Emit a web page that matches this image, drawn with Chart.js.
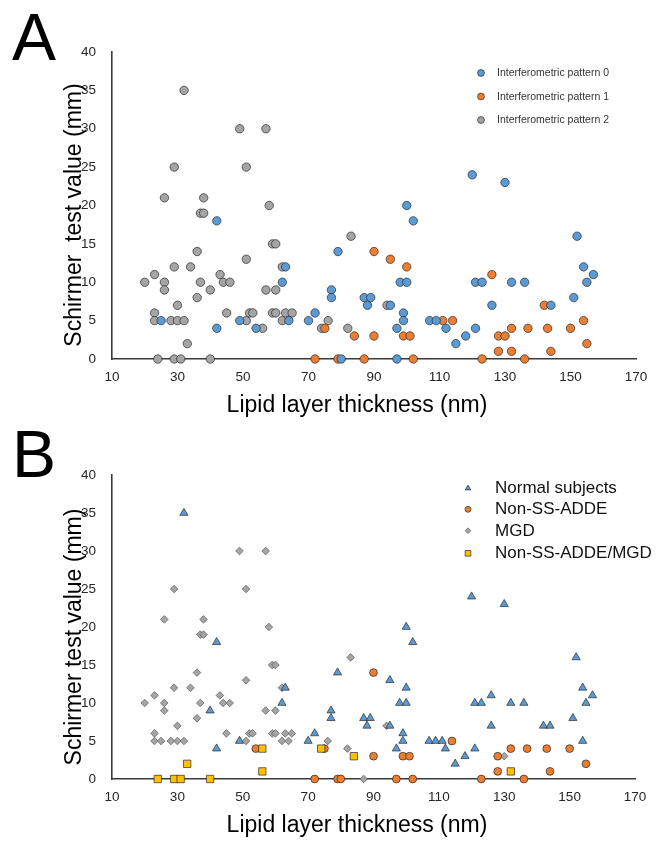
<!DOCTYPE html>
<html>
<head>
<meta charset="utf-8">
<script src="https://cdn.jsdelivr.net/npm/chart.js@4.4.1/dist/chart.umd.min.js"></script>
<style>
html,body{margin:0;padding:0;background:#fff;width:663px;height:842px;overflow:hidden;}
.wrap{position:absolute;left:0;width:663px;}
#wa{top:0;height:420px;}
#wb{top:420px;height:422px;}
.panel{position:absolute;left:12px;font-family:"Liberation Sans",Arial,Helvetica,sans-serif;font-size:66px;line-height:66px;color:#000;}
</style>
</head>
<body>
<div class="wrap" id="wa"><canvas id="ca"></canvas></div>
<div class="wrap" id="wb"><canvas id="cb"></canvas></div>
<div class="panel" style="top:4px">A</div>
<div class="panel" style="top:421px">B</div>
<script>
// ---------- data ----------
const xTicks = [10, 30, 50, 70, 90, 110, 130, 150, 170];
const yTicks = [0, 5, 10, 15, 20, 25, 30, 35, 40];

const xTitle = 'Lipid layer thickness (nm)';
const yTitleA = 'Schirmer  test value (mm)';
const yTitleB = 'Schirmer test value (mm)';

// Panel A
const labelsA = ['Interferometric pattern 0', 'Interferometric pattern 1', 'Interferometric pattern 2'];
const pattern0 = [[25,5],[42,18],[42,4],[49,5],[54,4],[62,10],[63,12],[64,5],[70,5],[72,6],[77,9],[77,8],[79,14],[80,0],[87,8],[88,7],[89,8],[95,7],[97,4],[97,0],[98,10],[99,6],[99,5],[100,10],[100,20],[102,18],[107,5],[109,5],[112,4],[115,2],[118,3],[120,24],[121,4],[121,10],[123,10],[126,7],[130,23],[132,10],[136,10],[144,7],[151,8],[152,16],[154,12],[155,10],[157,11]];
const pattern1 = [[72,0],[75,4],[79,0],[84,3],[87,0],[90,14],[90,3],[95,13],[99,3],[100,12],[101,3],[102,0],[111,5],[114,5],[123,0],[126,11],[128,3],[128,1],[130,3],[132,1],[132,4],[136,0],[137,4],[142,7],[143,4],[144,1],[150,4],[154,5],[155,2]];
const pattern2 = [[20,10],[23,11],[23,6],[23,5],[24,0],[26,21],[26,10],[26,9],[28,5],[29,25],[29,12],[29,0],[30,7],[30,5],[31,0],[32,35],[32,5],[33,2],[34,12],[36,14],[36,8],[37,19],[37,10],[38,19],[38,21],[40,9],[40,0],[43,11],[44,10],[45,6],[46,10],[49,30],[51,25],[51,13],[51,5],[52,6],[53,6],[56,4],[57,30],[57,9],[58,20],[59,15],[59,6],[60,15],[60,9],[60,6],[62,12],[62,5],[63,6],[65,6],[74,4],[76,5],[82,4],[83,16],[94,7]];

// Panel B
const labelsB = ['Normal subjects', 'Non-SS-ADDE', 'MGD', 'Non-SS-ADDE/MGD'];
const normalSubjects = [[32,35],[40,9],[42,18],[42,4],[49,5],[62,10],[63,12],[70,5],[72,6],[77,9],[77,8],[79,14],[87,8],[88,7],[89,8],[95,7],[95,13],[97,4],[98,10],[99,6],[99,5],[100,10],[100,12],[100,20],[102,18],[107,5],[109,5],[111,5],[112,4],[115,2],[118,3],[120,24],[121,4],[121,10],[123,10],[126,11],[126,7],[130,23],[132,10],[136,10],[142,7],[144,7],[151,8],[152,16],[154,12],[154,5],[155,10],[157,11]];
const nonSSADDE = [[54,4],[72,0],[75,4],[79,0],[80,0],[90,14],[90,3],[97,0],[99,3],[101,3],[102,0],[114,5],[123,0],[128,3],[128,1],[132,4],[136,0],[137,4],[143,4],[144,1],[150,4],[155,2]];
const mgd = [[20,10],[23,11],[23,6],[23,5],[25,5],[26,21],[26,10],[26,9],[28,5],[29,25],[29,12],[30,7],[30,5],[32,5],[34,12],[36,14],[36,8],[37,19],[37,10],[38,19],[38,21],[43,11],[44,10],[45,6],[46,10],[49,30],[51,25],[51,13],[51,5],[52,6],[53,6],[57,30],[57,9],[58,20],[59,15],[59,6],[60,15],[60,9],[60,6],[62,12],[62,5],[63,6],[64,5],[65,6],[76,5],[82,4],[83,16],[87,0],[94,7],[130,3]];
const nonSSADDEMGD = [[24,0],[29,0],[31,0],[33,2],[40,0],[56,1],[56,4],[74,4],[84,3],[132,1]];

// ---------- rendering ----------
const FONT = '"Liberation Sans", Arial, Helvetica, sans-serif';
Chart.defaults.font.family = FONT;
Chart.defaults.animation = false;

const toPts = arr => arr.map(p => ({x: p[0], y: p[1]}));

const BLUE = '#5B9BD5', ORANGE = '#ED7D31', GRAY = '#A5A5A5', YELLOW = '#FFC000';
const EDGE = 'rgba(45,45,45,0.9)';

const legendPlugin = {
  id: 'sideLegend',
  afterDraw(chart, args, o) {
    const ctx = chart.ctx;
    ctx.save();
    o.items.forEach((it, i) => {
      const ds = chart.data.datasets[it.ds];
      const y = o.y[i];
      ctx.fillStyle = ds.backgroundColor;
      ctx.strokeStyle = ds.borderColor;
      ctx.lineWidth = ds.borderWidth;
      Chart.helpers.drawPoint(ctx, {pointStyle: ds.pointStyle, radius: it.r, rotation: 0, borderWidth: ds.borderWidth}, o.markerX, y);
      ctx.fillStyle = o.color;
      ctx.font = o.size + 'px ' + FONT;
      ctx.textAlign = 'left';
      ctx.textBaseline = 'middle';
      ctx.fillText(ds.label, o.textX, y + 0.5);
    });
    ctx.restore();
  }
};

const titlePlugin = {
  id: 'axisTitles',
  afterDraw(chart, args, o) {
    const ctx = chart.ctx;
    ctx.save();
    ctx.fillStyle = '#000';
    ctx.font = o.size + 'px ' + FONT;
    ctx.textAlign = 'center';
    ctx.textBaseline = 'alphabetic';
    ctx.fillText(o.xText, o.xX, o.xY);
    ctx.translate(o.yX, o.yY);
    ctx.rotate(-Math.PI / 2);
    ctx.fillText(o.yText, 0, 0);
    ctx.restore();
  }
};

function makeScales(yw, xh) {
  return {
    x: {
      type: 'linear', min: 10, max: 170,
      afterBuildTicks: s => { s.ticks = xTicks.map(v => ({value: v})); },
      afterFit: s => { s.height = xh; },
      grid: {display: false, drawTicks: false},
      border: {display: true, color: '#3a3a3a', width: 1.6},
      ticks: {padding: 10, color: '#262626', font: {size: 13.5}},
      title: {display: false}
    },
    y: {
      type: 'linear', min: 0, max: 40,
      afterBuildTicks: s => { s.ticks = yTicks.map(v => ({value: v})); },
      afterFit: s => { s.width = yw; },
      grid: {display: false, drawTicks: false},
      border: {display: true, color: '#3a3a3a', width: 1.6},
      ticks: {padding: 16, color: '#262626', font: {size: 13.5}},
      title: {display: false}
    }
  };
}

const common = {
  responsive: true,
  maintainAspectRatio: false,
  animation: false,
  events: []
};

// Panel A chart
new Chart(document.getElementById('ca'), {
  type: 'scatter',
  data: {
    datasets: [
      {label: labelsA[0], data: toPts(pattern0), pointStyle: 'circle', pointRadius: 4.2, backgroundColor: BLUE, borderColor: EDGE, borderWidth: 0.8, clip: false},
      {label: labelsA[1], data: toPts(pattern1), pointStyle: 'circle', pointRadius: 4.2, backgroundColor: ORANGE, borderColor: EDGE, borderWidth: 0.8, clip: false},
      {label: labelsA[2], data: toPts(pattern2), pointStyle: 'circle', pointRadius: 4.2, backgroundColor: GRAY, borderColor: EDGE, borderWidth: 0.8, clip: false}
    ]
  },
  options: Object.assign({}, common, {
    layout: {padding: {top: 52, right: 27, bottom: 0, left: 0}},
    scales: makeScales(112, 61),
    plugins: {
      legend: {display: false},
      tooltip: {enabled: false},
      sideLegend: {items: [{ds: 0, r: 3.4}, {ds: 1, r: 3.4}, {ds: 2, r: 3.4}], y: [73, 96.5, 120], markerX: 481, textX: 497, size: 10.5, color: '#333'},
      axisTitles: {size: 23, xText: xTitle, xX: 357, xY: 412, yText: yTitleA, yX: 81, yY: 215}
    }
  }),
  plugins: [legendPlugin, titlePlugin]
});

// Panel B chart
new Chart(document.getElementById('cb'), {
  type: 'scatter',
  data: {
    datasets: [
      {label: labelsB[3], data: toPts(nonSSADDEMGD), pointStyle: 'rect', pointRadius: 5.2, backgroundColor: YELLOW, borderColor: EDGE, borderWidth: 0.8, clip: false},
      {label: labelsB[1], data: toPts(nonSSADDE), pointStyle: 'circle', pointRadius: 3.9, backgroundColor: ORANGE, borderColor: EDGE, borderWidth: 0.8, clip: false},
      {label: labelsB[0], data: toPts(normalSubjects), pointStyle: 'triangle', pointRadius: 4.7, backgroundColor: BLUE, borderColor: EDGE, borderWidth: 0.8, clip: false},
      {label: labelsB[2], data: toPts(mgd), pointStyle: 'rectRot', pointRadius: 3.8, backgroundColor: GRAY, borderColor: 'rgba(90,90,90,0.9)', borderWidth: 0.8, clip: false}
    ]
  },
  options: Object.assign({}, common, {
    layout: {padding: {top: 55, right: 28, bottom: 0, left: 0}},
    scales: makeScales(112, 63),
    plugins: {
      legend: {display: false},
      tooltip: {enabled: false},
      sideLegend: {items: [{ds: 2, r: 3.2}, {ds: 1, r: 3}, {ds: 3, r: 2.9}, {ds: 0, r: 4}], y: [68.3, 89.3, 110.7, 133.3], markerX: 468, textX: 495, size: 17, color: '#111'},
      axisTitles: {size: 23, xText: xTitle, xX: 357, xY: 412, yText: yTitleB, yX: 81, yY: 217}
    }
  }),
  plugins: [legendPlugin, titlePlugin]
});
</script>
</body>
</html>
